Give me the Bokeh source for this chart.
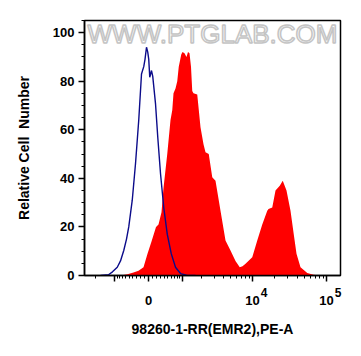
import numpy as np
from bokeh.plotting import figure
from bokeh.models import (Range1d, FixedTicker, SingleIntervalTicker, LinearAxis,
                          CustomJSTickFormatter, ColumnDataSource, Label)
from bokeh.embed import file_html
from bokeh.resources import INLINE

# ---- data (display channel 0..1024 on a biexponential axis, counts in %) ----
blue_channel = [64, 96, 112, 131, 144, 157, 168, 177, 191, 204, 217, 228, 237, 242,
                248, 253, 257, 261, 268, 273, 284, 293, 304, 317, 331, 347, 364, 384,
                408, 444]
blue_count = [0, 0.3, 1.5, 3.4, 6, 10.3, 15, 20, 31, 46, 64, 83, 86, 89,
              94, 92, 89, 81.6, 84.4, 82, 70.8, 57, 42, 28, 17, 9, 3.4, 0.8,
              0.1, 0]

red_channel = [144, 172, 196, 216, 236, 252, 268, 286, 296, 308, 316, 331, 344, 351,
               356, 364, 371, 377, 387, 392, 400, 408, 414, 420, 426, 431, 436, 451,
               464, 476, 484, 497, 511, 524, 544, 564, 584, 604, 621, 632, 644, 671,
               691, 711, 731, 736, 751, 764, 781, 793, 808, 824, 837, 848, 864, 891,
               916, 944]
red_count = [0, 0.5, 1.2, 2, 3.4, 9, 14, 20, 21, 26, 36, 50, 64, 68,
             75, 77, 80, 86, 91, 92, 91.5, 90, 92, 91.5, 86, 76, 75, 74.5,
             61, 54, 50.7, 50, 40.5, 39, 26.7, 14.4, 10.3, 6, 3.4, 3.8, 4.8, 7.5,
             14.4, 21, 26.7, 27.4, 28, 35, 37, 39, 35, 26.7, 17, 9, 3.4, 1,
             0.3, 0]

major_values = [-1000, 0, 1000, 10000, 100000]
major_labels = ["", "0", "", "10", "10"]
major_exponents = ["", "", "", "4", "5"]
minor_values = ([-2000] + [-k * 100 for k in range(9, 0, -1)] + [k * 100 for k in range(1, 10)]
                + [k * 1000 for k in range(2, 10)] + [k * 10000 for k in range(2, 10)])

x_title = "98260-1-RR(EMR2),PE-A"
y_title = "Relative Cell\u00a0 Number"
watermark = "WWW.PTGLAB.COM"


# biexponential (arcsinh) display transform: value -> display channel
def to_channel(v):
    return 256.0 + 128.56 * np.arcsinh(np.asarray(v, dtype=float) / 787.0)


major_pos = [float(c) for c in to_channel(major_values)]
minor_pos = [float(c) for c in to_channel(minor_values)]
pad = "\u00a0" * 7
exp_labels = [(pad + e) if e else "" for e in major_exponents]

JS = ("for (let i = 0; i < pos.length; i++) { if (Math.abs(pos[i] - tick) < 1e-6) "
      "return labs[i]; } return '';")

p = figure(width=361, height=356, output_backend="svg", toolbar_location=None,
           x_range=Range1d(0, 1024), y_range=Range1d(0, 105),
           min_border_left=84, min_border_right=21, min_border_top=20,
           min_border_bottom=81)
p.background_fill_color = "white"
p.border_fill_color = "white"
p.grid.visible = False
p.outline_line_color = "black"
p.outline_line_width = 1.5

red_src = ColumnDataSource(dict(x=red_channel, y=red_count))
blue_src = ColumnDataSource(dict(x=blue_channel, y=blue_count))
p.varea(x="x", y1=0, y2="y", source=red_src, fill_color="#ff0000")
p.line(x="x", y="y", source=blue_src, line_color="#0b0b8a", line_width=1.4)

p.add_layout(Label(x=512, y=99.5, text=watermark, text_align="center",
                   text_baseline="middle", text_font="Liberation Sans",
                   text_font_size="26px", text_color="#fbfbfb",
                   text_outline_color="#c4c4c4"))

# inner x axis: ticks + exponents
xa = p.xaxis[0]
xa.ticker = FixedTicker(ticks=major_pos, minor_ticks=minor_pos)
xa.formatter = CustomJSTickFormatter(args=dict(pos=major_pos, labs=exp_labels), code=JS)

# outer x axis: mantissas + title
xb = LinearAxis(ticker=FixedTicker(ticks=major_pos, minor_ticks=[]),
                formatter=CustomJSTickFormatter(args=dict(pos=major_pos, labs=major_labels), code=JS))
p.add_layout(xb, "below")

ya = p.yaxis[0]
ya.ticker = SingleIntervalTicker(interval=20, num_minor_ticks=4)

for ax in (xa, xb, ya):
    ax.axis_line_color = "black"
    ax.axis_line_width = 1.5
    ax.major_tick_line_color = "black"
    ax.minor_tick_line_color = "black"
    ax.major_tick_line_width = 1.5
    ax.minor_tick_line_width = 1
    ax.major_tick_in = 0
    ax.major_tick_out = 6
    ax.minor_tick_in = 0
    ax.minor_tick_out = 3
    ax.major_label_text_font = "Liberation Sans"
    ax.major_label_text_font_style = "bold"
    ax.major_label_text_font_size = "13px"
    ax.major_label_text_color = "black"
    ax.axis_label_text_font = "Liberation Sans"
    ax.axis_label_text_font_style = "bold"
    ax.axis_label_text_font_size = "14px"
    ax.axis_label_text_color = "black"

xa.major_label_text_font_size = "12px"
xa.major_label_standoff = 4

xb.axis_line_color = None
xb.major_tick_line_color = None
xb.minor_tick_line_color = None
xb.major_tick_out = 0
xb.minor_tick_out = 0
xb.major_label_standoff = -7
xb.axis_label = x_title
xb.axis_label_standoff = 13

ya.axis_label = y_title
ya.major_label_standoff = 4
ya.axis_label_standoff = 18

open("out.html", "w").write(file_html(p, INLINE))
